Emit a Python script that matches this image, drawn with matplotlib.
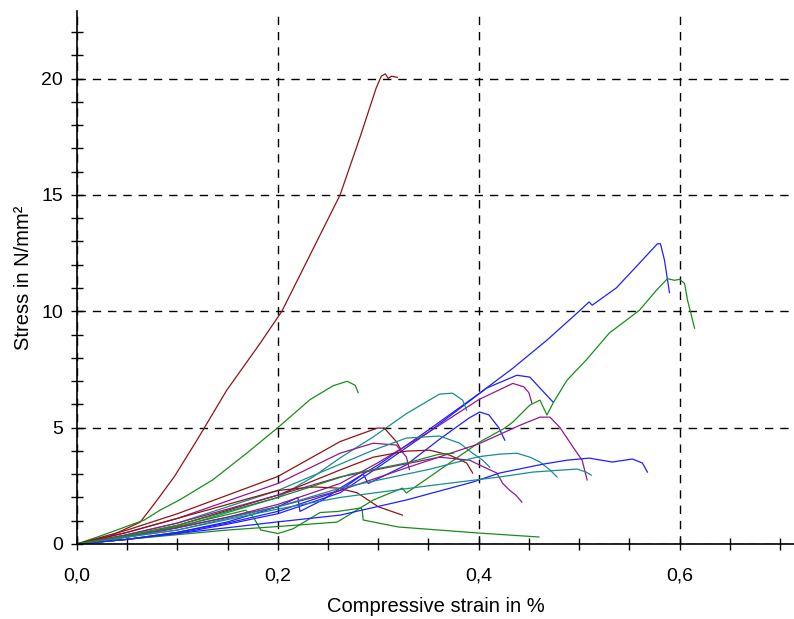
import matplotlib
matplotlib.use("Agg")
import matplotlib.pyplot as plt
from matplotlib.ticker import MultipleLocator, FuncFormatter

plt.rcParams['font.family'] = ['Liberation Sans', 'DejaVu Sans']

# specimen curves: strain in %, stress in N/mm²
s01_strain = [0, 0.033, 0.063, 0.08, 0.097, 0.12, 0.149, 0.182, 0.204, 0.233, 0.262, 0.282, 0.298, 0.303, 0.307, 0.31, 0.313, 0.319]
s01_stress = [0, 0.34, 0.94, 1.9, 2.9, 4.5, 6.6, 8.6, 10.0, 12.5, 15.0, 17.5, 19.6, 20.1, 20.2, 20.0, 20.1, 20.05]

s02_strain = [0, 0.023, 0.067, 0.083, 0.102, 0.135, 0.169, 0.2, 0.232, 0.255, 0.269, 0.277, 0.28]
s02_stress = [0, 0.34, 1.03, 1.46, 1.89, 2.75, 3.9, 5.0, 6.2, 6.8, 6.99, 6.82, 6.5]

s03_strain = [0, 0.05, 0.1, 0.15, 0.2, 0.22, 0.222, 0.245, 0.262, 0.3, 0.35, 0.4, 0.434, 0.468, 0.5, 0.51, 0.513, 0.537, 0.56, 0.578, 0.581, 0.585, 0.59]
s03_stress = [0, 0.2, 0.5, 0.95, 1.6, 2.0, 1.4, 1.9, 2.4, 3.4, 4.9, 6.45, 7.55, 8.76, 10.0, 10.4, 10.26, 11.0, 12.06, 12.9, 12.9, 12.2, 10.8]

s04_strain = [0, 0.05, 0.1, 0.15, 0.2, 0.262, 0.3, 0.35, 0.408, 0.438, 0.451, 0.461, 0.474]
s04_stress = [0, 0.2, 0.45, 0.85, 1.3, 2.2, 3.3, 4.8, 6.7, 7.25, 7.17, 6.7, 6.1]

s05_strain = [0, 0.05, 0.1, 0.15, 0.2, 0.262, 0.3, 0.35, 0.4, 0.434, 0.445, 0.45, 0.453]
s05_stress = [0, 0.3, 0.7, 1.15, 1.7, 2.6, 3.5, 4.8, 6.2, 6.9, 6.75, 6.5, 6.05]

s06_strain = [0, 0.05, 0.1, 0.15, 0.2, 0.262, 0.285, 0.29, 0.328, 0.361, 0.39, 0.401, 0.41, 0.42, 0.426]
s06_stress = [0, 0.2, 0.5, 0.9, 1.4, 2.3, 3.0, 2.6, 3.4, 4.5, 5.4, 5.67, 5.55, 5.0, 4.46]

s07_strain = [0, 0.05, 0.1, 0.2, 0.235, 0.262, 0.295, 0.328, 0.361, 0.374, 0.384, 0.388]
s07_stress = [0, 0.3, 0.7, 2.0, 2.88, 3.7, 4.6, 5.6, 6.44, 6.48, 6.18, 5.75]

s08_strain = [0, 0.05, 0.1, 0.2, 0.262, 0.299, 0.306, 0.318, 0.322]
s08_stress = [0, 0.6, 1.3, 2.9, 4.4, 4.98, 4.98, 4.4, 4.1]

s09_strain = [0, 0.05, 0.1, 0.2, 0.262, 0.295, 0.318, 0.328, 0.331]
s09_stress = [0, 0.5, 1.1, 2.6, 3.9, 4.33, 4.25, 3.74, 3.2]

s10_strain = [0, 0.05, 0.1, 0.2, 0.295, 0.328, 0.361, 0.381, 0.394, 0.404, 0.411]
s10_stress = [0, 0.4, 0.9, 2.3, 4.03, 4.55, 4.64, 4.33, 3.9, 3.6, 3.3]

s11_strain = [0, 0.05, 0.1, 0.2, 0.262, 0.295, 0.328, 0.351, 0.371, 0.388, 0.394]
s11_stress = [0, 0.35, 0.8, 2.1, 3.18, 3.73, 3.99, 4.03, 3.82, 3.48, 3.05]

s12_strain = [0, 0.05, 0.1, 0.2, 0.236, 0.26, 0.279, 0.3, 0.324]
s12_stress = [0, 0.5, 1.1, 2.3, 2.45, 2.4, 2.2, 1.6, 1.24]

s13_strain = [0, 0.05, 0.1, 0.168, 0.175, 0.183, 0.2, 0.215, 0.242, 0.26, 0.283, 0.284, 0.285, 0.32, 0.4, 0.46]
s13_stress = [0, 0.35, 0.75, 1.45, 1.2, 0.6, 0.45, 0.65, 1.35, 1.4, 1.55, 1.45, 1.03, 0.73, 0.47, 0.3]

s14_strain = [0, 0.05, 0.1, 0.15, 0.2, 0.259, 0.295, 0.324, 0.328, 0.361, 0.401, 0.426, 0.434, 0.451, 0.461, 0.468, 0.474, 0.488, 0.507, 0.53, 0.56, 0.577, 0.588, 0.595, 0.6, 0.605, 0.608, 0.615]
s14_stress = [0, 0.2, 0.4, 0.6, 0.75, 0.94, 1.89, 2.4, 2.19, 3.18, 4.38, 4.98, 5.24, 5.97, 6.18, 5.54, 6.05, 7.04, 7.9, 9.06, 10.04, 10.9, 11.4, 11.33, 11.37, 11.2, 10.47, 9.27]

s15_strain = [0, 0.05, 0.1, 0.2, 0.262, 0.33, 0.4, 0.441, 0.461, 0.471, 0.481, 0.494, 0.503, 0.508]
s15_stress = [0, 0.3, 0.7, 1.6, 2.3, 3.3, 4.3, 5.1, 5.45, 5.45, 5.0, 4.16, 3.6, 2.75]

s16_strain = [0, 0.05, 0.1, 0.2, 0.262, 0.361, 0.391, 0.401, 0.418, 0.424, 0.431, 0.437, 0.443]
s16_stress = [0, 0.4, 0.9, 2.1, 2.88, 3.73, 3.6, 3.39, 3.05, 2.6, 2.3, 2.1, 1.8]

s17_strain = [0, 0.05, 0.1, 0.2, 0.262, 0.35, 0.4, 0.421, 0.438, 0.451, 0.461, 0.471, 0.478]
s17_stress = [0, 0.3, 0.6, 1.6, 2.4, 3.2, 3.75, 3.86, 3.9, 3.73, 3.52, 3.18, 2.88]

s18_strain = [0, 0.05, 0.1, 0.2, 0.262, 0.328, 0.394, 0.421, 0.464, 0.488, 0.51, 0.533, 0.553, 0.563, 0.568]
s18_stress = [0, 0.2, 0.45, 0.95, 1.24, 1.89, 2.66, 3.05, 3.43, 3.6, 3.69, 3.52, 3.65, 3.48, 3.09]

s19_strain = [0, 0.05, 0.1, 0.2, 0.262, 0.35, 0.421, 0.454, 0.498, 0.507, 0.512]
s19_stress = [0, 0.3, 0.6, 1.5, 2.0, 2.5, 2.88, 3.09, 3.22, 3.09, 2.96]

s20_strain = [0, 0.05, 0.1, 0.2, 0.272, 0.33, 0.36, 0.375]
s20_stress = [0, 0.35, 0.8, 2.0, 3.0, 3.5, 3.85, 3.9]

curves = [
    (s01_strain, s01_stress), (s02_strain, s02_stress), (s03_strain, s03_stress),
    (s04_strain, s04_stress), (s05_strain, s05_stress), (s06_strain, s06_stress),
    (s07_strain, s07_stress), (s08_strain, s08_stress), (s09_strain, s09_stress),
    (s10_strain, s10_stress), (s11_strain, s11_stress), (s12_strain, s12_stress),
    (s13_strain, s13_stress), (s14_strain, s14_stress), (s15_strain, s15_stress),
    (s16_strain, s16_stress), (s17_strain, s17_stress), (s18_strain, s18_stress),
    (s19_strain, s19_stress), (s20_strain, s20_stress),
]

red = '#8e1414'
green = '#1a8c1a'
blue = '#1f1fff'
purple = '#8e1a8e'
teal = '#1a8c8c'
colors = [red, green, blue, blue, purple, blue, teal, red, purple, teal,
          red, red, green, green, purple, purple, teal, blue, teal, green]

fig = plt.figure(figsize=(7.94, 6.19), dpi=100)
ax = fig.add_axes([0.097, 0.1212, 0.903, 0.861])

for (x, y), c in zip(curves, colors):
    ax.plot(x, y, color=c, lw=0.9)

ax.set_xlim(0, 0.714)
ax.set_ylim(0, 22.9)

ax.xaxis.set_major_locator(MultipleLocator(0.2))
ax.xaxis.set_minor_locator(MultipleLocator(0.05))
ax.yaxis.set_major_locator(MultipleLocator(5))
ax.yaxis.set_minor_locator(MultipleLocator(1))
ax.xaxis.set_major_formatter(FuncFormatter(lambda v, p: f"{v:.1f}".replace('.', ',')))

ax.grid(True, which='major', color='black', linestyle=(0, (6, 5)), linewidth=1)
ax.spines['top'].set_visible(False)
ax.spines['right'].set_visible(False)
ax.spines['left'].set_linewidth(1.2)
ax.spines['bottom'].set_linewidth(1.2)

ax.tick_params(axis='both', which='both', direction='inout', length=8, width=1, labelsize=14)
ax.tick_params(axis='x', which='major', pad=13)
ax.tick_params(axis='y', which='major', pad=6)

ax.set_xlabel('Compressive strain in %', fontsize=14.5, labelpad=9)
ax.set_ylabel('Stress in N/mm²', fontsize=14.5, labelpad=6)

fig.savefig('out.png', dpi=100)
